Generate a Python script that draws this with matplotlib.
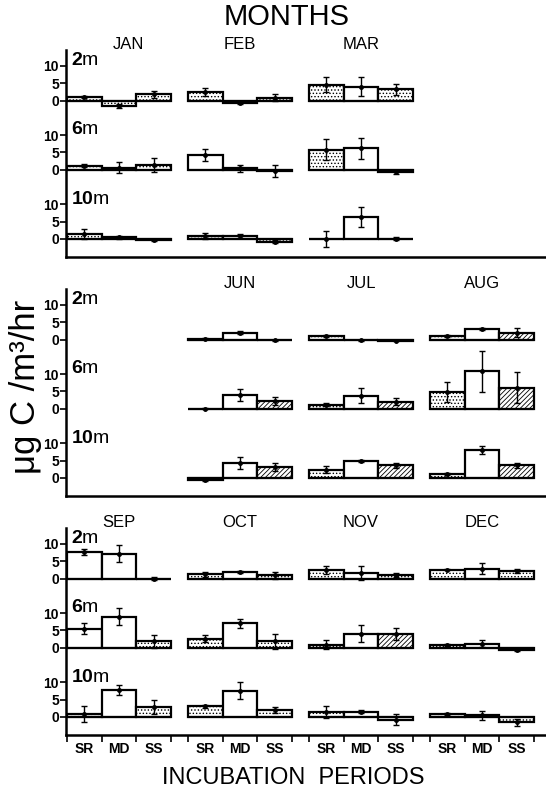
import numpy as np
import matplotlib
matplotlib.use('Agg')
import matplotlib.pyplot as plt

plt.rcParams['font.family'] = ['Liberation Sans', 'DejaVu Sans']
plt.rcParams['mathtext.fontset'] = 'custom'
plt.rcParams['mathtext.bf'] = 'Liberation Sans:bold'
plt.rcParams['mathtext.rm'] = 'Liberation Sans'
plt.rcParams['hatch.linewidth'] = 0.6

# incubation periods and depths
periods = ['SR', 'MD', 'SS']
depths = ['2', '6', '10']

# mean uptake (ug C/m3/hr), rows = 2m, 6m, 10m ; cols = SR, MD, SS
jan_mean = [[1.0, -1.5, 1.8], [1.2, 0.6, 1.3], [1.5, 0.4, -0.3]]
jan_err = [[0.3, 0.6, 1.0], [0.4, 1.5, 2.0], [1.4, 0.3, 0.3]]
jan_fill = ['ddd', 'dwd', 'ddd']

feb_mean = [[2.4, -0.6, 0.8], [4.3, 0.4, -0.4], [0.9, 0.8, -0.8]]
feb_err = [[1.1, 0.4, 1.0], [1.8, 1.0, 1.7], [0.8, 0.6, 0.4]]
feb_fill = ['ddd', 'www', 'dwd']

mar_mean = [[4.6, 4.0, 3.2], [5.8, 6.2, -0.8], [0.0, 6.3, 0.0]]
mar_err = [[2.1, 2.7, 1.5], [3.0, 3.1, 0.5], [2.3, 3.0, 0.4]]
mar_fill = ['dwd', 'dwd', 'www']

jun_mean = [[0.2, 2.0, -0.2], [0.0, 4.0, 2.3], [-0.5, 4.4, 3.2]]
jun_err = [[0.1, 0.5, 0.2], [0.2, 1.7, 1.2], [0.3, 1.7, 1.2]]
jun_fill = ['dww', 'wwh', 'dwh']

jul_mean = [[1.0, -0.2, -0.3], [1.1, 3.8, 2.0], [2.4, 4.8, 3.6]]
jul_err = [[0.2, 0.1, 0.1], [0.4, 2.3, 1.0], [1.0, 0.3, 0.8]]
jul_fill = ['ddd', 'dwh', 'dwh']

aug_mean = [[1.0, 3.0, 2.0], [4.8, 10.8, 6.0], [1.0, 8.0, 3.6]]
aug_err = [[0.3, 0.3, 1.4], [3.0, 6.0, 4.5], [0.3, 1.2, 0.8]]
aug_fill = ['dwh', 'dwh', 'dwh']

sep_mean = [[7.7, 7.2, 0.0], [5.5, 9.0, 1.8], [0.8, 7.8, 2.8]]
sep_err = [[0.8, 2.5, 0.5], [1.5, 2.5, 1.8], [2.2, 1.5, 2.0]]
sep_fill = ['www', 'wwd', 'dwd']

oct_mean = [[1.2, 1.8, 1.0], [2.6, 7.0, 1.8], [3.0, 7.6, 2.0]]
oct_err = [[0.8, 0.3, 1.0], [1.0, 1.2, 2.2], [0.5, 2.5, 0.8]]
oct_fill = ['dwd', 'dwd', 'dwd']

nov_mean = [[2.5, 1.5, 1.0], [0.8, 4.0, 4.0], [1.4, 1.5, -0.8]]
nov_err = [[1.2, 2.0, 0.5], [1.3, 2.5, 1.7], [1.8, 0.5, 1.5]]
nov_fill = ['dwd', 'dwh', 'dwd']

dec_mean = [[2.6, 2.8, 2.2], [0.9, 1.2, -0.6], [0.8, 0.4, -1.6]]
dec_err = [[0.2, 1.6, 0.6], [0.3, 1.0, 0.5], [0.3, 1.3, 1.0]]
dec_fill = ['dwd', 'dwd', 'dwd']

months = {
    'JAN': (jan_mean, jan_err, jan_fill),
    'FEB': (feb_mean, feb_err, feb_fill),
    'MAR': (mar_mean, mar_err, mar_fill),
    'JUN': (jun_mean, jun_err, jun_fill),
    'JUL': (jul_mean, jul_err, jul_fill),
    'AUG': (aug_mean, aug_err, aug_fill),
    'SEP': (sep_mean, sep_err, sep_fill),
    'OCT': (oct_mean, oct_err, oct_fill),
    'NOV': (nov_mean, nov_err, nov_fill),
    'DEC': (dec_mean, dec_err, dec_fill),
}

# which month goes in which slot of each panel row
panels = [['JAN', 'FEB', 'MAR', None],
          [None, 'JUN', 'JUL', 'AUG'],
          ['SEP', 'OCT', 'NOV', 'DEC']]

hatches = {'w': None, 'd': '.....', 'h': '///////'}

fig = plt.figure(figsize=(5.46, 7.94), dpi=100)

bar_w = 34.7
step = 121
bases = [40, 20, 0]
panel_bottoms = [0.6763, 0.3753, 0.0743]

for p, row in enumerate(panels):
    ax = fig.add_axes([0.1209, panel_bottoms[p], 0.8791, 0.2607])
    ax.set_xlim(0, 480)
    ax.set_ylim(-5.25, 54.6)
    for s in ['top', 'right']:
        ax.spines[s].set_visible(False)
    ax.spines['left'].set_linewidth(1.8)
    ax.spines['bottom'].set_linewidth(1.8)

    yt = [b + t for b in bases for t in (0, 5, 10)]
    ax.set_yticks(yt)
    ax.set_yticklabels(['0', '5', '10'] * 3, fontweight='bold')
    ax.tick_params(axis='y', direction='out', length=4, width=1.2,
                   labelsize=10, pad=1)

    for k, base in enumerate(bases):
        ax.text(5, base + 11.5, r'$\mathbf{%s}$m' % depths[k], fontsize=14,
                va='center', ha='left')

    for g, name in enumerate(row):
        if name is None:
            continue
        mean, err, fill = months[name]
        start = g * step + 1
        lefts = start + np.arange(3) * bar_w
        centers = lefts + bar_w / 2
        for k, base in enumerate(bases):
            ax.hlines(base, start, start + 3 * bar_w, color='black', lw=1.5)
            for j in range(3):
                ax.bar(lefts[j], mean[k][j], width=bar_w, bottom=base,
                       align='edge', facecolor='white', edgecolor='black',
                       linewidth=1.6, hatch=hatches[fill[k][j]])
            ax.errorbar(centers, base + np.array(mean[k]), yerr=err[k],
                        fmt='o', ms=2.5, color='black', elinewidth=1.0,
                        capsize=2, capthick=1.0)
        lx = start + 1.5 * bar_w + (9 if name == 'JAN' else 0)
        ax.text(lx, 56.3, name, fontsize=12, ha='center', va='center',
                clip_on=False)

    if p == 2:
        edges = [g * step + 1 + j * bar_w for g in range(4) for j in range(4)]
        cents = [g * step + 1 + (j + 0.5) * bar_w for g in range(4) for j in range(3)]
        ax.set_xticks(cents)
        ax.set_xticklabels(periods * 4, fontsize=10, fontweight='bold')
        ax.set_xticks(edges, minor=True)
        ax.tick_params(axis='x', which='major', length=0, pad=5)
        ax.tick_params(axis='x', which='minor', direction='out', length=5,
                       width=1.2)
    else:
        ax.set_xticks([])

fig.text(0.525, 0.979, 'MONTHS', fontsize=21, ha='center', va='center')
fig.text(0.538, 0.02, 'INCUBATION  PERIODS', fontsize=17, ha='center',
         va='center')
fig.text(0.046, 0.513, 'μg C /m³/hr', fontsize=25, rotation=90,
         ha='center', va='center')

fig.savefig('out.png', dpi=100)
